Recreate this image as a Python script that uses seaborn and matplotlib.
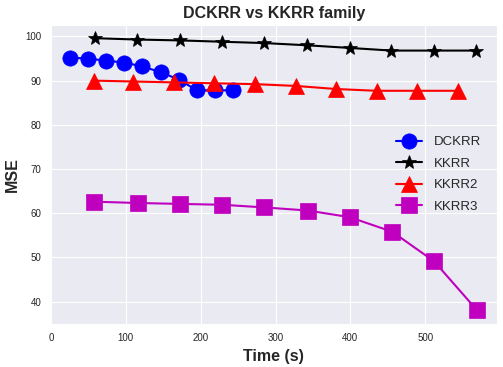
import matplotlib
matplotlib.use("Agg")
import matplotlib.pyplot as plt
import seaborn as sns

# Data
dckrr_t = [25, 50, 74, 98, 122, 147, 171, 195, 219, 243]
dckrr_mse = [95.2, 95.0, 94.5, 94.1, 93.2, 91.9, 90.2, 87.8, 87.8, 87.8]

kkrr_t = [59, 115, 172, 229, 285, 342, 399, 455, 512, 568]
kkrr_mse = [99.6, 99.3, 99.1, 98.8, 98.5, 98.0, 97.4, 96.8, 96.8, 96.8]

kkrr2_t = [57, 110, 164, 218, 273, 327, 381, 435, 489, 544]
kkrr2_mse = [90.0, 89.8, 89.6, 89.4, 89.2, 88.8, 88.1, 87.7, 87.7, 87.7]

kkrr3_t = [58, 116, 172, 229, 285, 343, 399, 456, 512, 569]
kkrr3_mse = [62.6, 62.3, 62.1, 61.9, 61.3, 60.6, 59.1, 55.8, 49.1, 38.1]

series = [
    ("DCKRR", dckrr_t, dckrr_mse, "o", "b"),
    ("KKRR", kkrr_t, kkrr_mse, "*", "k"),
    ("KKRR2", kkrr2_t, kkrr2_mse, "^", "r"),
    ("KKRR3", kkrr3_t, kkrr3_mse, "s", "m"),
]

sns.set_style("darkgrid", {"axes.facecolor": "#EAEAF2", "xtick.bottom": False, "ytick.left": False})
plt.rcParams["font.family"] = ["Liberation Sans", "DejaVu Sans"]

fig = plt.figure(figsize=(5.03, 3.67), dpi=100)
ax = fig.add_axes([0.1, 0.117, 0.888, 0.815])

sizes = {"o": 11, "*": 10, "^": 11, "s": 11}
for name, t, m, mk, c in series:
    sns.lineplot(x=t, y=m, ax=ax, marker=mk, color=c, label=name,
                 markersize=sizes[mk], markeredgecolor=c,
                 markeredgewidth=0.5, linewidth=1.5, sort=False)

ax.set_xlim(-1, 596)
ax.set_ylim(34.9, 102.6)
ax.set_xticks([0, 100, 200, 300, 400, 500])
ax.set_yticks([40, 50, 60, 70, 80, 90, 100])
ax.tick_params(labelsize=7, colors=".15", pad=3)
ax.set_title("DCKRR vs KKRR family", fontsize=11.5, fontweight="bold", color=".15", pad=5)
ax.set_xlabel("Time (s)", fontsize=11.5, fontweight="bold", color=".15")
ax.set_ylabel("MSE", fontsize=11.5, fontweight="bold", color=".15")
leg = ax.legend(loc="center right", fontsize=9.5, frameon=False, markerscale=1.0,
                labelspacing=0.7, handletextpad=0.9, borderaxespad=0.8)

fig.savefig("out.png", dpi=100)
